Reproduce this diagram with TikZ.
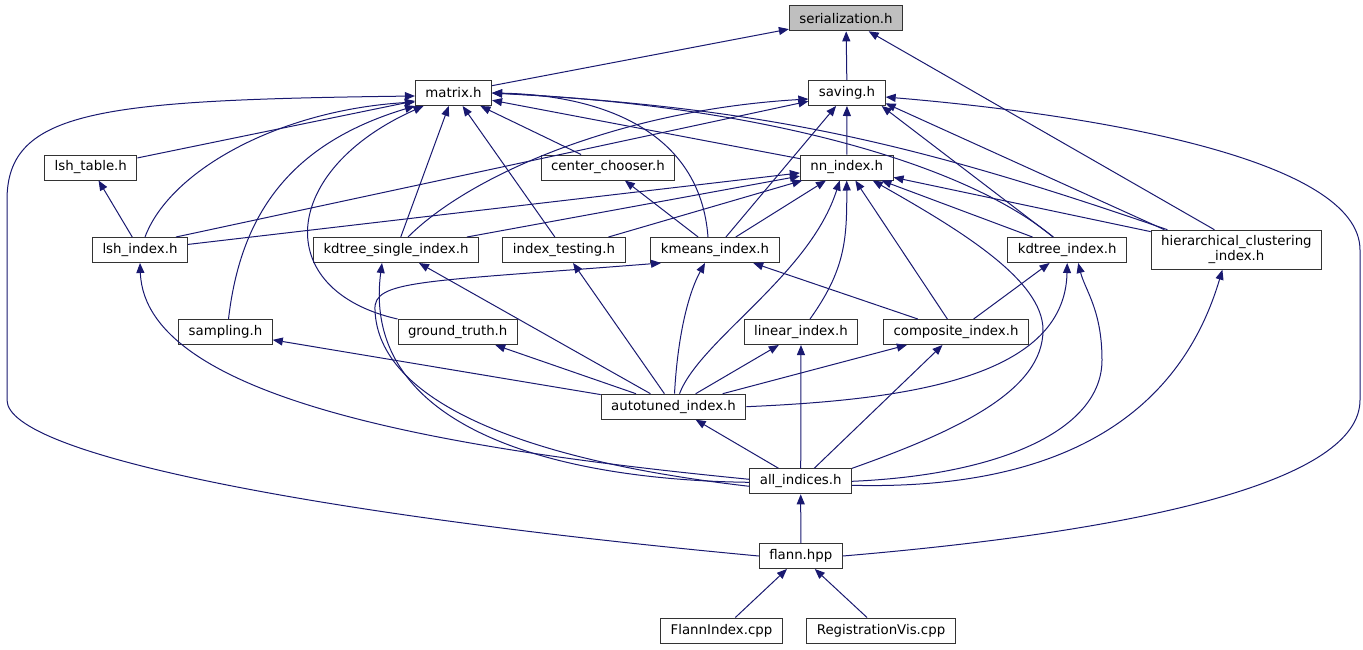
\documentclass[tikz,border=0pt]{standalone}
\usepackage{fontspec}
\setmainfont{DejaVu Sans}
\usetikzlibrary{arrows.meta}
\definecolor{edgeblue}{RGB}{25,25,112}

\begin{document}
\begin{tikzpicture}[x=1pt,y=-1pt,
	file/.style={draw=black!80,fill=white,line width=1pt,inner xsep=10pt,inner ysep=2pt,minimum height=25pt,font=\fontsize{13.33}{15.5}\selectfont},
	dep/.style={draw=edgeblue,line width=1pt,-{Triangle[length=10pt,width=8pt]}}]
	\useasboundingbox (0,0) rectangle (1363,649);
	\path[every node/.style=file]
	(846,18.3) node[fill=black!25] (serial) {serialization.h}
	(453.5,93) node (matrix) {matrix.h}
	(847,93) node (saving) {saving.h}
	(90.8,167.5) node (lshtable) {lsh\_table.h}
	(608,167.5) node (chooser) {center\_chooser.h}
	(846.7,167.5) node (nnindex) {nn\_index.h}
	(140,250) node (lshindex) {lsh\_index.h}
	(396,250) node (kdsingle) {kdtree\_single\_index.h}
	(564,250) node (testing) {index\_testing.h}
	(715,250) node (kmeans) {kmeans\_index.h}
	(1067.2,250) node (kdtree) {kdtree\_index.h}
	(1236.4,249.7) node[minimum height=39pt,align=center] (hier) {hierarchical\_clustering\\\_index.h}
	(225.5,332) node (sampling) {sampling.h}
	(457.7,332) node (truth) {ground\_truth.h}
	(801,332) node (linear) {linear\_index.h}
	(956,332) node (composite) {composite\_index.h}
	(673.5,406.7) node (autotuned) {autotuned\_index.h}
	(800.7,481.3) node (all) {all\_indices.h}
	(800.8,556) node (flann) {flann.hpp}
	(721.5,630.5) node (flannidx) {FlannIndex.cpp}
	(881,630.5) node (regvis) {RegistrationVis.cpp};
	\foreach \a/\b in {matrix/serial,saving/serial,lshtable/matrix,lshindex/lshtable,lshindex/nnindex,
		chooser/matrix,kmeans/chooser,kmeans/saving,kmeans/nnindex,kdsingle/matrix,kdsingle/nnindex,
		testing/matrix,testing/nnindex,nnindex/matrix,nnindex/saving,kdtree/nnindex,hier/nnindex,
		composite/nnindex,composite/kmeans,composite/kdtree,autotuned/sampling,autotuned/truth,
		autotuned/kdsingle,autotuned/testing,autotuned/linear,autotuned/composite,
		all/autotuned,all/linear,all/composite,flann/all,flannidx/flann,regvis/flann}
	\draw[dep] (\a) -- (\b);
	\draw[dep] ([xshift=-22pt]hier.north) -- (serial);
	\draw[dep] ([xshift=36pt]lshindex.north) -- (saving);
	\draw[dep] ([xshift=-14pt]kdtree.north) -- ([xshift=-4pt]saving.south east);
	\draw[dep] ([xshift=-72pt]hier.north) -- (saving.-15);
	% long bends round the sides
	\draw[dep] (flann.west) .. controls (320,515) and (7,455) .. (7,400) -- (7,200)
		.. controls (7,110) and (100,100) .. ([yshift=-3pt]matrix.west);
	\draw[dep] (flann.east) .. controls (1150,530) and (1360,480) .. (1360,400) -- (1360,250)
		.. controls (1360,160) and (1100,115) .. ([yshift=-4pt]saving.east);
	\draw[dep] ([xshift=5pt]lshindex.north) .. controls (170,170) and (280,110) .. ([yshift=-9pt]matrix.west);
	\draw[dep] ([xshift=3pt]sampling.north) .. controls (240,220) and (285,145) .. (matrix.south west);
	\draw[dep] (truth.north west) .. controls (270,290) and (280,170) .. ([xshift=-30pt]matrix.south);
	\draw[dep] ([xshift=-7pt]kmeans.north) .. controls (700,130) and (600,95) .. (matrix.east);
	\draw[dep] ([xshift=12pt]kdsingle.north) .. controls (470,175) and (620,110) .. ([yshift=-6pt]saving.west);
	\draw[dep] ([xshift=-14pt]kdtree.north) .. controls (960,160) and (750,105) .. (matrix.east);
	\draw[dep] ([xshift=-69pt]hier.north) .. controls (916,143) and (767,108) .. (matrix.east);
	\draw[dep] ([xshift=9pt]linear.north) .. controls (845,270) and (847,240) .. (nnindex.south);
	\draw[dep] ([xshift=1pt]autotuned.north) .. controls (678,330) and (690,290) .. ([xshift=-10pt]kmeans.south);
	\draw[dep] ([xshift=6pt]autotuned.north) .. controls (700,340) and (810,275) .. ([xshift=-7pt]nnindex.south);
	\draw[dep] (autotuned.east) .. controls (900,400) and (1065,380) .. (kdtree.south);
	\draw[dep] (all.north east) .. controls (960,430) and (1043,390) .. (1043,330)
		.. controls (1043,280) and (960,230) .. ([xshift=26pt]nnindex.south);
	\draw[dep] (all.east) .. controls (1000,475) and (1102,430) .. (1102,360)
		.. controls (1102,310) and (1085,290) .. ([xshift=11pt]kdtree.south);
	\draw[dep] ([yshift=-4pt]all.east) .. controls (1040,490) and (1175,430) .. ([xshift=-14pt]hier.south);
	\draw[dep] ([yshift=2pt]all.west) .. controls (450,450) and (145,400) .. (lshindex.south);
	\draw[dep] ([yshift=-1pt]all.west) .. controls (560,480) and (360,430) .. ([xshift=-14pt]kdsingle.south);
	\draw[dep] ([yshift=-5pt]all.west) .. controls (520,460) and (378,400) .. (375,310)
		.. controls (373,280) and (420,282) .. ([xshift=-54pt]kmeans.south);
\end{tikzpicture}
\end{document}
